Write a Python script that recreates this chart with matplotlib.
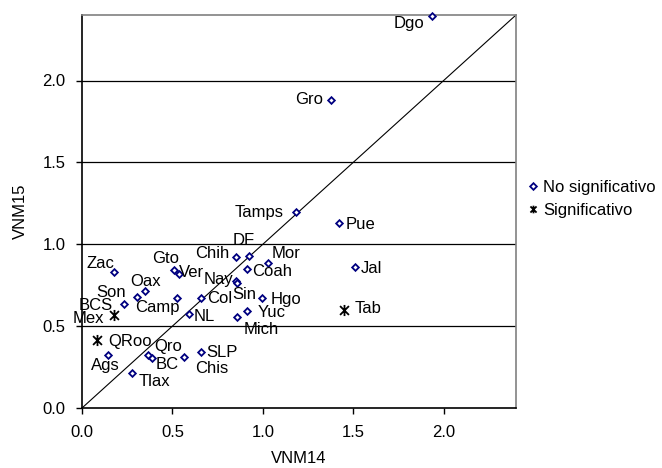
import matplotlib
matplotlib.use("Agg")
import matplotlib.pyplot as plt
from matplotlib.path import Path
from matplotlib.lines import Line2D

plt.rcParams['font.family'] = ['Liberation Sans', 'DejaVu Sans']

# Non-significant states (diamonds)
ns_names = ["Dgo", "Gro", "Tamps", "Pue", "Jal", "Zac", "BCS", "Son", "Oax",
            "Ags", "Tlax", "Qro", "BC", "Chis", "SLP", "Gto", "Ver", "Camp",
            "NL", "Col", "Chih", "DF", "Coah", "Mor", "Nay", "Sin", "Hgo",
            "Yuc", "Mich"]
ns_x = [1.938, 1.379, 1.185, 1.423, 1.512, 0.177, 0.233, 0.306, 0.350,
        0.146, 0.275, 0.367, 0.389, 0.565, 0.657, 0.508, 0.537, 0.526,
        0.589, 0.659, 0.851, 0.925, 0.910, 1.026, 0.851, 0.857, 0.997,
        0.910, 0.858]
ns_y = [2.395, 1.881, 1.199, 1.128, 0.859, 0.829, 0.635, 0.676, 0.713,
        0.322, 0.212, 0.324, 0.307, 0.313, 0.340, 0.843, 0.817, 0.672,
        0.572, 0.672, 0.924, 0.930, 0.851, 0.888, 0.774, 0.762, 0.674,
        0.593, 0.554]

# Significant states (stars)
s_names = ["Tab", "Mex", "QRoo"]
s_x = [1.451, 0.177, 0.085]
s_y = [0.599, 0.568, 0.415]

# label offsets in pixels (dx, dy; dy positive = down in picture)
offsets = {
    "Dgo": (-23, 8), "Gro": (-22, 0), "Tamps": (-37, 1), "Pue": (21, 1),
    "Jal": (16, 1), "Zac": (-14, -9), "BCS": (-28, 1), "Son": (-26, -5),
    "Oax": (0, -10), "Ags": (-3, 10), "Tlax": (23, 8), "Qro": (20, -8),
    "BC": (15, 7), "Chis": (28, 12), "SLP": (21, 0), "Gto": (-8, -11),
    "Ver": (12, -2), "Camp": (-20, 10), "NL": (16, 2), "Col": (19, 1),
    "Chih": (-24, -3), "DF": (-6, -15), "Coah": (26, 3), "Mor": (19, -9),
    "Nay": (-17, -2), "Sin": (7, 11), "Hgo": (24, 2), "Yuc": (25, 2),
    "Mich": (24, 12), "Tab": (24, -1), "Mex": (-26, 4), "QRoo": (33, 1),
}

xmax, ymax = 2.4, 2.4
fs = 12

fig = plt.figure(figsize=(6.62, 4.68), dpi=100)
ax = fig.add_axes([82/662, 60/468, (516-82)/662, (408-15)/468])

for yv in [0.5, 1.0, 1.5, 2.0]:
    ax.axhline(yv, color='black', lw=0.9, zorder=1)
ax.plot([0, xmax], [0, ymax], color='black', lw=0.8, zorder=2)

star_path = Path([(-1, -1), (1, 1), (-1, 1), (1, -1), (0, -1.25), (0, 1.25)],
                 [Path.MOVETO, Path.LINETO, Path.MOVETO, Path.LINETO,
                  Path.MOVETO, Path.LINETO])

ax.plot(ns_x, ns_y, linestyle='none', marker='D', ms=3.4, mfc='white',
        mec='#000080', mew=1.3, zorder=4, clip_on=False)
ax.plot(s_x, s_y, linestyle='none', marker=star_path, ms=8, mfc='none',
        mec='black', mew=1.3, zorder=4, clip_on=False)

for n, x, y in list(zip(ns_names, ns_x, ns_y)) + list(zip(s_names, s_x, s_y)):
    dx, dy = offsets[n]
    ax.annotate(n, (x, y), xytext=(dx, -dy), textcoords='offset pixels',
                ha='center', va='center', fontsize=fs, zorder=5)

ax.set_xlim(0, xmax)
ax.set_ylim(0, ymax)
ax.set_xticks([0, 0.5, 1.0, 1.5, 2.0])
ax.set_yticks([0, 0.5, 1.0, 1.5, 2.0])
ax.set_xticklabels(["0.0", "0.5", "1.0", "1.5", "2.0"], fontsize=fs)
ax.set_yticklabels(["0.0", "0.5", "1.0", "1.5", "2.0"], fontsize=fs)
ax.tick_params(direction='out', length=4, width=1)
ax.tick_params(axis='x', pad=8)
ax.tick_params(axis='y', pad=8)
ax.spines['left'].set_color('black')
ax.spines['bottom'].set_color('black')
ax.spines['top'].set_color('#808080')
ax.spines['right'].set_color('#808080')
for s in ax.spines.values():
    s.set_linewidth(1.2)
ax.set_xlabel("VNM14", fontsize=fs, labelpad=8)
ax.set_ylabel("VNM15", fontsize=fs, labelpad=10)

h1 = Line2D([], [], linestyle='none', marker='D', ms=3.4, mfc='white',
            mec='#000080', mew=1.3)
h2 = Line2D([], [], linestyle='none', marker=star_path, ms=5.5, mfc='none',
            mec='black', mew=1.3)
fig.legend([h1, h2], ["No significativo", "Significativo"],
           loc='upper left', bbox_to_anchor=(528/662, 1 - 180/468),
           frameon=False, fontsize=fs, handlelength=0.6, handletextpad=0.3,
           labelspacing=0.5, borderpad=0, borderaxespad=0)

fig.savefig("out.png", dpi=100)
